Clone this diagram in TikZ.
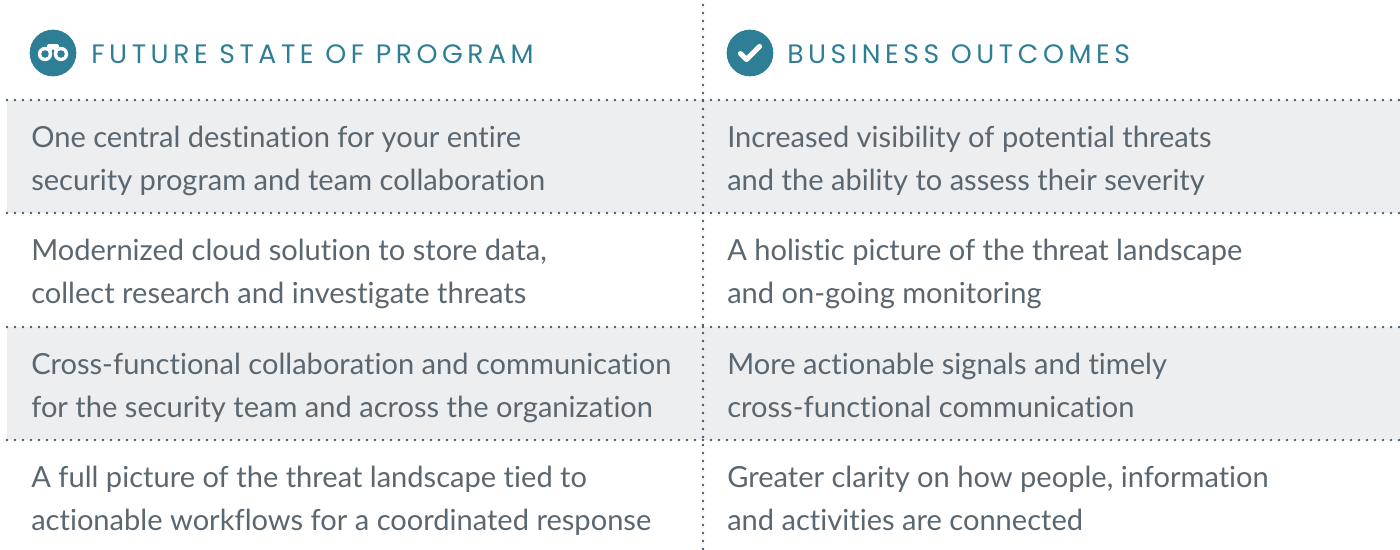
\documentclass[tikz,border=0pt]{standalone}
\usepackage{fontspec}
\setmainfont[Ligatures={NoCommon,NoDiscretionary,NoRare}]{Lato}
\newfontfamily\headfont[LetterSpace=17]{Poppins}
\definecolor{teal}{HTML}{2E7E96}
\definecolor{bodytxt}{HTML}{5B6770}
\definecolor{bandgray}{HTML}{EDEEF0}
\definecolor{dotcol}{HTML}{485666}
\tikzset{
  dotline/.style={draw=dotcol, line width=1.9pt, line cap=round, dash pattern=on 0pt off 6pt},
  band/.style={fill=bandgray, draw=none},
  celltext/.style={anchor=base west, inner sep=0pt, align=left, text=bodytxt,
    font=\fontsize{21.8pt}{32.25pt}\selectfont},
  headtext/.style={anchor=base west, inner sep=0pt, text=teal,
    font=\headfont\fontsize{20pt}{22pt}\selectfont},
  iconbg/.style={circle, fill=teal, draw=none, minimum size=35pt, inner sep=0pt}
}
\begin{document}
\begin{tikzpicture}[x=0.75pt, y=-0.75pt]
\useasboundingbox (0,0) rectangle (1400,550);
% bands
\fill[band] (7,100) rectangle (1400,213);
\fill[band] (7,327) rectangle (1400,440);
% dotted lines
\coordinate (h1a) at (7,100);  \coordinate (h1b) at (1400,100);
\coordinate (h2a) at (7,213);  \coordinate (h2b) at (1400,213);
\coordinate (h3a) at (7,327);  \coordinate (h3b) at (1400,327);
\coordinate (h4a) at (7,440);  \coordinate (h4b) at (1400,440);
\coordinate (vt) at (703,5);   \coordinate (vb) at (703,550);
\draw[dotline] (h1a) -- (h1b);
\draw[dotline] (h2a) -- (h2b);
\draw[dotline] (h3a) -- (h3b);
\draw[dotline] (h4a) -- (h4b);
\draw[dotline] (vt) -- (vb);
% icons
\node[iconbg] (ic1) at (53,53) {};
\fill[white, rounded corners=1.5pt] (47,44) rectangle (59,52);
\fill[white] (45,54) circle (7.2);
\fill[white] (61,54) circle (7.2);
\fill[teal] (45,54) circle (3.8);
\fill[teal] (61,54) circle (3.8);
\fill[teal] (53,51) circle (1.6);
\node[iconbg] (ic2) at (750,53) {};
\draw[white, line width=3.8pt, line cap=round, line join=round] (740.5,53.5) -- (746.5,59.5) -- (759.5,46.5);
% headers
\node[headtext] (h1) at (91,63) {FUTURE STATE OF PROGRAM};
\node[headtext] (h2) at (787,63) {BUSINESS OUTCOMES};
% cells (anchor = baseline of the second line)
\node[celltext] (a1) at (31,190) {One central destination for your entire\\security program and team collaboration};
\node[celltext] (b1) at (727,190) {Increased visibility of potential threats\\and the ability to assess their severity};
\node[celltext] (a2) at (31,303) {Modernized cloud solution to store data,\\collect research and investigate threats};
\node[celltext] (b2) at (727,303) {A holistic picture of the threat landscape\\and on-going monitoring};
\node[celltext] (a3) at (31,417) {Cross-functional collaboration and communication\\for the security team and across the organization};
\node[celltext] (b3) at (727,417) {More actionable signals and timely\\cross-functional communication};
\node[celltext] (a4) at (31,530) {A full picture of the threat landscape tied to\\actionable workflows for a coordinated response};
\node[celltext] (b4) at (727,530) {Greater clarity on how people, information\\and activities are connected};
\end{tikzpicture}
\end{document}
